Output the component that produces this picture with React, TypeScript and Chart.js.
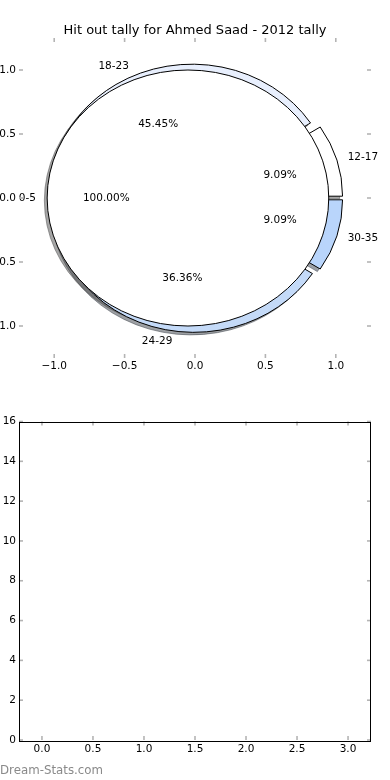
import React, { useEffect, useRef } from "react";
import { Chart, registerables } from "chart.js";

Chart.register(...registerables);

// ---------- data ----------
const TITLE = "Hit out tally for Ahmed Saad - 2012 tally";
const WATERMARK = "Dream-Stats.com";
const outerLabels = ["12-17", "18-23", "24-29", "30-35"];
const outerValues = [1, 5, 4, 1];
const innerLabels = ["0-5"];
const innerValues = [11];
const pieTicks = [-1, -0.5, 0, 0.5, 1];
const barXTicks = [0, 0.5, 1, 1.5, 2, 2.5, 3];
const barYTicks = [0, 2, 4, 6, 8, 10, 12, 14, 16];

// ---------- styles ----------
const outerColors = ["#ffffff", "#e8effd", "#c4daf8", "#b9d5fb"];
const innerColors = ["#ffffff"];
const EXPLODE = 0.05;
const LABEL_DIST = 1.08;
const PCT_DIST = 0.58;
const SHADOW_OFF = -0.02;
const FONT = "'DejaVu Sans', sans-serif";
const TICK_COLOR = "#b4b4b4";

Chart.defaults.font.family = FONT;

const rad = (d: number) => (d * Math.PI) / 180;
const fmtNum = (v: number) => v.toFixed(1).replace("-", "\u2212");

type Wedge = { t1: number; t2: number; cx: number; cy: number; mid: number; frac: number };

function buildWedges(values: number[], explode: number): Wedge[] {
  const total = values.reduce((a, b) => a + b, 0);
  let theta = 0;
  return values.map((v) => {
    const t1 = theta;
    const t2 = theta + (360 * v) / total;
    theta = t2;
    const mid = rad((t1 + t2) / 2);
    return { t1, t2, cx: explode * Math.cos(mid), cy: explode * Math.sin(mid), mid, frac: v / total };
  });
}

function hexRgb(h: string) {
  const n = parseInt(h.slice(1), 16);
  return [(n >> 16) & 255, (n >> 8) & 255, n & 255];
}

const piePlugin = {
  id: "pieDraw",
  afterDatasetsDraw(chart: any) {
    const { ctx } = chart;
    const xs = chart.scales.x;
    const ys = chart.scales.y;
    const sx = xs.getPixelForValue(1) - xs.getPixelForValue(0);
    const sy = ys.getPixelForValue(0) - ys.getPixelForValue(1);
    const outer = buildWedges(outerValues, EXPLODE);
    const inner = buildWedges(innerValues, EXPLODE);

    const path = (w: Wedge, dx: number, dy: number) => {
      ctx.save();
      ctx.translate(xs.getPixelForValue(w.cx + dx), ys.getPixelForValue(w.cy + dy));
      ctx.scale(sx, -sy);
      ctx.beginPath();
      if (w.t2 - w.t1 >= 360 - 1e-9) {
        ctx.arc(0, 0, 1, 0, Math.PI * 2);
      } else {
        ctx.moveTo(0, 0);
        ctx.arc(0, 0, 1, rad(w.t1), rad(w.t2), false);
        ctx.closePath();
      }
      ctx.restore();
    };

    const drawShadow = (w: Wedge, color: string) => {
      const [r, g, b] = hexRgb(color);
      const c = `rgba(${Math.round(r * 0.3)},${Math.round(g * 0.3)},${Math.round(b * 0.3)},0.5)`;
      path(w, SHADOW_OFF, SHADOW_OFF);
      ctx.fillStyle = c;
      ctx.strokeStyle = c;
      ctx.lineWidth = 1;
      ctx.fill();
      ctx.stroke();
    };
    const drawWedge = (w: Wedge, color: string) => {
      path(w, 0, 0);
      ctx.fillStyle = color;
      ctx.strokeStyle = "#000";
      ctx.lineWidth = 1;
      ctx.fill();
      ctx.stroke();
    };

    ctx.save();
    outer.forEach((w, i) => drawShadow(w, outerColors[i]));
    inner.forEach((w, i) => drawShadow(w, innerColors[i]));
    outer.forEach((w, i) => drawWedge(w, outerColors[i]));
    inner.forEach((w, i) => drawWedge(w, innerColors[i]));

    ctx.fillStyle = "#000";
    ctx.font = `10.5px ${FONT}`;
    ctx.textBaseline = "middle";
    const texts = (ws: Wedge[], labels: string[]) => {
      ws.forEach((w, i) => {
        const lx = w.cx + LABEL_DIST * Math.cos(w.mid);
        const ly = w.cy + LABEL_DIST * Math.sin(w.mid);
        ctx.textAlign = lx > 0 ? "left" : "right";
        ctx.fillText(labels[i], xs.getPixelForValue(lx), ys.getPixelForValue(ly));
        const px = w.cx + PCT_DIST * Math.cos(w.mid);
        const py = w.cy + PCT_DIST * Math.sin(w.mid);
        ctx.textAlign = "center";
        ctx.fillText((w.frac * 100).toFixed(2) + "%", xs.getPixelForValue(px), ys.getPixelForValue(py));
      });
    };
    texts(outer, outerLabels);
    texts(inner, innerLabels);
    ctx.restore();
  },
};

function drawInwardTicks(chart: any) {
  const { ctx, chartArea } = chart;
  const { left, right, top, bottom } = chartArea;
  const xs = chart.scales.x;
  const ys = chart.scales.y;
  ctx.save();
  ctx.strokeStyle = TICK_COLOR;
  ctx.lineWidth = 1.6;
  const seg = (x1: number, y1: number, x2: number, y2: number) => {
    ctx.beginPath();
    ctx.moveTo(x1, y1);
    ctx.lineTo(x2, y2);
    ctx.stroke();
  };
  xs.ticks.forEach((t: any) => {
    const p = xs.getPixelForValue(t.value);
    seg(p, top, p, top + 4);
    seg(p, bottom, p, bottom - 4);
  });
  ys.ticks.forEach((t: any) => {
    const p = ys.getPixelForValue(t.value);
    seg(left, p, left + 4, p);
    seg(right, p, right - 4, p);
  });
  ctx.restore();
}

const ticksPlugin = { id: "inTicks", afterDraw: (c: any) => drawInwardTicks(c) };

const framePlugin = {
  id: "frame",
  afterDraw(chart: any) {
    const { ctx, chartArea } = chart;
    ctx.save();
    ctx.strokeStyle = "#000";
    ctx.lineWidth = 1;
    ctx.strokeRect(
      Math.round(chartArea.left) + 0.5,
      Math.round(chartArea.top) + 0.5,
      Math.round(chartArea.right - chartArea.left) - 1,
      Math.round(chartArea.bottom - chartArea.top)
    );
    ctx.restore();
  },
};

const watermarkPlugin = {
  id: "watermark",
  afterDraw(chart: any) {
    const { ctx } = chart;
    ctx.save();
    ctx.font = `11.8px ${FONT}`;
    ctx.fillStyle = "#8a8a8a";
    ctx.textAlign = "left";
    ctx.textBaseline = "middle";
    ctx.fillText(WATERMARK, 0, 381);
    ctx.restore();
  },
};

const tickFont = { family: FONT, size: 10.5 };

function axis(min: number, max: number, ticks: number[], fmt: (v: number) => string, fit: (s: any) => void, padding: number) {
  return {
    type: "linear" as const,
    min,
    max,
    afterBuildTicks: (ax: any) => {
      ax.ticks = ticks.map((v) => ({ value: v }));
    },
    afterFit: fit,
    ticks: {
      callback: (v: any) => fmt(Number(v)),
      font: tickFont,
      color: "#000",
      padding,
      maxRotation: 0,
      autoSkip: false,
    },
    grid: { display: false, drawTicks: false, tickLength: 0 },
    border: { display: false },
  };
}

export default function App() {
  const topRef = useRef<HTMLCanvasElement>(null);
  const botRef = useRef<HTMLCanvasElement>(null);

  useEffect(() => {
    const top = new Chart(topRef.current!, {
      type: "scatter",
      data: { datasets: [] },
      options: {
        animation: false,
        responsive: false,
        devicePixelRatio: 1,
        layout: { padding: { left: 0, right: 19, top: 0, bottom: 0 } },
        plugins: {
          legend: { display: false },
          tooltip: { enabled: false },
          title: {
            display: true,
            text: TITLE,
            fullSize: false,
            color: "#000",
            font: { family: FONT, size: 13, weight: "normal" },
            padding: { top: 22.8, bottom: -0.4 },
          },
        },
        scales: {
          x: axis(-1.25, 1.25, pieTicks, fmtNum, (s) => { s.height = 32; }, 2),
          y: axis(-1.25, 1.25, pieTicks, fmtNum, (s) => { s.width = 19; }, 3),
        },
      } as any,
      plugins: [piePlugin, ticksPlugin],
    });

    const bot = new Chart(botRef.current!, {
      type: "scatter",
      data: { datasets: [] },
      options: {
        animation: false,
        responsive: false,
        devicePixelRatio: 1,
        layout: { padding: { left: 0, right: 19, top: 31.5, bottom: 0 } },
        plugins: { legend: { display: false }, tooltip: { enabled: false }, title: { display: false } },
        scales: {
          x: axis(-0.225, 3.225, barXTicks, (v) => v.toFixed(1), (s) => { s.height = 40; }, 2.5),
          y: axis(0, 16, barYTicks, (v) => String(Math.round(v)), (s) => { s.width = 19; }, 3),
        },
      } as any,
      plugins: [ticksPlugin, framePlugin, watermarkPlugin],
    });

    return () => {
      top.destroy();
      bot.destroy();
    };
  }, []);

  return (
    <div style={{ position: "absolute", left: 0, top: 0, width: 390, height: 780, overflow: "hidden", background: "#fff" }}>
      <canvas ref={topRef} width={390} height={390} style={{ position: "absolute", left: 0, top: 0, width: 390, height: 390 }} />
      <canvas ref={botRef} width={390} height={390} style={{ position: "absolute", left: 0, top: 390, width: 390, height: 390 }} />
    </div>
  );
}
